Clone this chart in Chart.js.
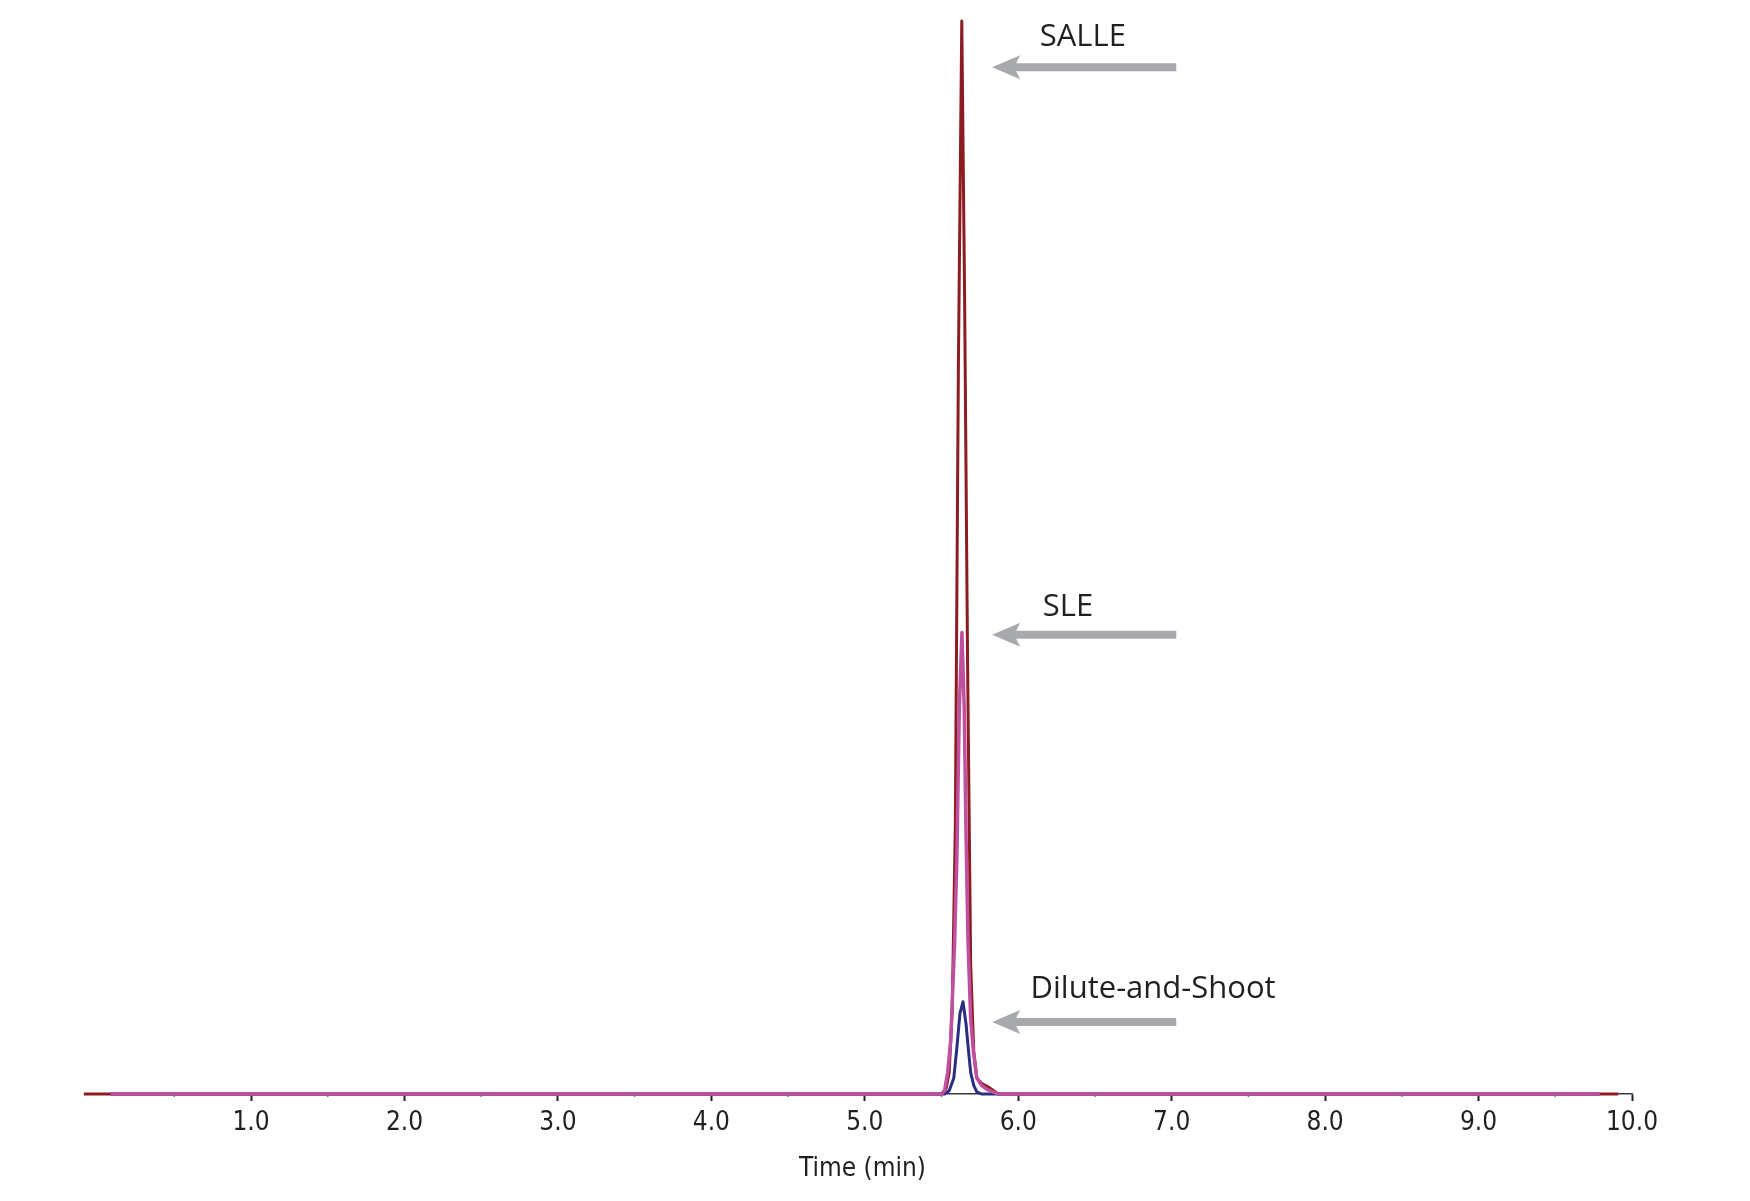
<!DOCTYPE html>
<html>
<head>
    <title>Chromatogram - SALLE vs SLE vs Dilute-and-Shoot</title>
    <script src="https://cdn.jsdelivr.net/npm/chart.js"></script>
    <style>
        body { margin: 0; background: #fff; }
        #chrom { display: block; }
    </style>
</head>
<body>
    <canvas id="chrom" width="1750" height="1201"></canvas>

    <script>
        // Traces (time in min, response in % of the SALLE peak)
        const salleTime = [-0.09, 5.50, 5.53, 5.55, 5.57, 5.59, 5.61, 5.632, 5.65, 5.67, 5.69, 5.71, 5.73, 5.76, 5.80, 5.84, 5.87, 9.91];
        const salleVal  = [0, 0, 0.5, 2, 8, 25, 68, 100, 75, 40, 12, 4, 1.5, 1.0, 0.7, 0.3, 0, 0];

        const sleTime = [0.085, 5.50, 5.52, 5.54, 5.56, 5.585, 5.60, 5.616, 5.633, 5.648, 5.66, 5.673, 5.69, 5.707, 5.73, 5.76, 5.80, 5.87, 9.79];
        const sleVal  = [0, 0, 0.3, 2, 5, 14, 22, 36, 43, 36, 24, 14, 7, 4, 1.5, 0.8, 0.4, 0, 0];

        const diluteTime = [0.085, 5.52, 5.55, 5.58, 5.60, 5.62, 5.64, 5.66, 5.674, 5.69, 5.71, 5.73, 5.76, 9.79];
        const diluteVal  = [0, 0, 0.3, 1.5, 4.3, 7.5, 8.6, 6.5, 4.3, 2, 0.8, 0.2, 0, 0];

        // Axis ticks
        const majorTicks = [1, 2, 3, 4, 5, 6, 7, 8, 9, 10];
        const minorTicks = [0.5, 1.5, 2.5, 3.5, 4.5, 5.5, 6.5, 7.5, 8.5, 9.5];

        // Arrow labels
        const labelText  = ['SALLE', 'SLE', 'Dilute-and-Shoot'];
        const labelTime  = [6.14, 6.16, 6.08];
        const labelLevel = [98.5, 45.4, 9.8];
        const arrowLevel = [95.7, 42.8, 6.7];
        const arrowFrom = 7.03;
        const arrowTo = 5.83;

        const pts = (xs, ys) => xs.map((x, i) => ({ x: x, y: ys[i] }));
        const INK = '#231f20';

        const annotations = {
            id: 'annotations',
            afterDatasetsDraw(chart) {
                const ctx = chart.ctx;
                const xs = chart.scales.x, ys = chart.scales.y;
                ctx.save();
                // minor ticks
                ctx.strokeStyle = '#777';
                ctx.lineWidth = 1.5;
                minorTicks.forEach(t => {
                    const px = xs.getPixelForValue(t);
                    ctx.beginPath();
                    ctx.moveTo(px, chart.chartArea.bottom);
                    ctx.lineTo(px, chart.chartArea.bottom + 3);
                    ctx.stroke();
                });
                // arrows
                ctx.fillStyle = '#a7a9ac';
                ctx.strokeStyle = '#a7a9ac';
                arrowLevel.forEach(v => {
                    const y = ys.getPixelForValue(v);
                    const tail = xs.getPixelForValue(arrowFrom);
                    const tip = xs.getPixelForValue(arrowTo);
                    ctx.lineWidth = 8;
                    ctx.beginPath();
                    ctx.moveTo(tail, y);
                    ctx.lineTo(tip + 20, y);
                    ctx.stroke();
                    ctx.beginPath();
                    ctx.moveTo(tip, y);
                    ctx.lineTo(tip + 28, y - 12);
                    ctx.lineTo(tip + 22, y);
                    ctx.lineTo(tip + 28, y + 12);
                    ctx.closePath();
                    ctx.fill();
                });
                // labels
                ctx.fillStyle = INK;
                ctx.font = '31px "Open Sans", "Noto Sans", sans-serif';
                ctx.textAlign = 'left';
                ctx.textBaseline = 'middle';
                labelText.forEach((s, i) => {
                    ctx.fillText(s, xs.getPixelForValue(labelTime[i]), ys.getPixelForValue(labelLevel[i]));
                });
                ctx.restore();
            }
        };

        // dataset 0 is painted last (on top): SLE over Dilute over SALLE
        const ctx = document.getElementById('chrom').getContext('2d');
        new Chart(ctx, {
            type: 'line',
            data: {
                datasets: [
                    { label: 'SLE', data: pts(sleTime, sleVal), borderColor: '#c04fa0', borderWidth: 3.5 },
                    { label: 'Dilute-and-Shoot', data: pts(diluteTime, diluteVal), borderColor: '#2a2d80', borderWidth: 3 },
                    { label: 'SALLE', data: pts(salleTime, salleVal), borderColor: '#8c1c22', borderWidth: 3 }
                ]
            },
            options: {
                responsive: false,
                animation: false,
                devicePixelRatio: 1,
                datasets: {
                    line: { pointRadius: 0, tension: 0, fill: false, clip: false, borderJoinStyle: 'round' }
                },
                layout: { padding: { left: 93, right: 118, top: 21, bottom: 0 } },
                scales: {
                    x: {
                        type: 'linear',
                        min: -0.03,
                        max: 10,
                        afterBuildTicks: (scale) => { scale.ticks = majorTicks.map(v => ({ value: v })); },
                        afterFit: (scale) => { scale.height = 107; },
                        border: { color: '#3a3a3a', width: 1.5 },
                        grid: { drawOnChartArea: false, tickLength: 7, tickWidth: 2, tickColor: INK },
                        ticks: {
                            autoSkip: false,
                            maxRotation: 0,
                            padding: 7,
                            color: INK,
                            font: { family: '"Liberation Sans Narrow", "DejaVu Sans Condensed", sans-serif', size: 26 },
                            callback: (v) => Number(v).toFixed(1)
                        },
                        title: {
                            display: true,
                            text: 'Time (min)',
                            color: INK,
                            padding: { top: 0, bottom: 16 },
                            font: { family: '"Liberation Sans Narrow", "DejaVu Sans Condensed", sans-serif', size: 26 }
                        }
                    },
                    y: { display: false, min: 0, max: 100 }
                },
                plugins: {
                    legend: { display: false },
                    tooltip: { enabled: false }
                }
            },
            plugins: [annotations]
        });
    </script>
</body>
</html>
